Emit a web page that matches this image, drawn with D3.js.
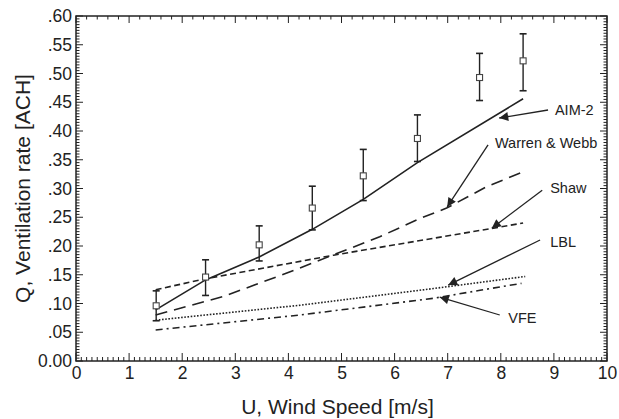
<!DOCTYPE html>
<html><head><meta charset="utf-8">
<script src="https://cdn.jsdelivr.net/npm/d3@7"></script>
<style>
html,body{margin:0;padding:0;background:#fff;}
svg{display:block;font-family:"Liberation Sans",Arial,sans-serif;}
</style></head>
<body>
<svg id="c" width="619" height="419"></svg>
<script>
// ---- data ----
const xTicks = [0,1,2,3,4,5,6,7,8,9,10];
const yTicks = [0,0.05,0.10,0.15,0.20,0.25,0.30,0.35,0.40,0.45,0.50,0.55,0.60];
const yTickLabels = ["0.00",".05",".10",".15",".20",".25",".30",".35",".40",".45",".50",".55",".60"];

const measU  = [1.51, 2.44, 3.45, 4.45, 5.41, 6.43, 7.60, 8.42];
const measQ  = [0.096, 0.146, 0.202, 0.266, 0.322, 0.387, 0.493, 0.522];
const measLo = [0.070, 0.114, 0.174, 0.228, 0.279, 0.347, 0.453, 0.470];
const measHi = [0.122, 0.176, 0.235, 0.304, 0.368, 0.428, 0.535, 0.569];

const aimU  = [1.5, 2.44, 3.45, 4.45, 5.41, 6.43, 8.42];
const aimQ  = [0.089, 0.141, 0.181, 0.229, 0.281, 0.345, 0.456];
const wwU   = [1.5, 2.77, 3.97, 5.72, 6.48, 6.98, 7.73, 8.42];
const wwQ   = [0.080, 0.112, 0.153, 0.216, 0.248, 0.266, 0.303, 0.329];
const shawU = [1.5, 2.44, 4.85, 7.86, 8.42];
const shawQ = [0.124, 0.143, 0.184, 0.231, 0.240];
const lblU  = [1.5, 4.22, 6.73, 8.46];
const lblQ  = [0.071, 0.097, 0.126, 0.147];
const vfeU  = [1.5, 4.22, 6.73, 7.61, 8.39];
const vfeQ  = [0.054, 0.080, 0.109, 0.123, 0.135];

const labelNames = ["AIM-2", "Warren & Webb", "Shaw", "LBL", "VFE"];
const labelU  = [9.02, 7.89, 8.93, 8.93, 8.14];
const labelQ  = [0.4365, 0.379, 0.301, 0.207, 0.0748];
const arrowU0 = [8.89, 7.76, 8.78, 8.74, 7.98];
const arrowQ0 = [0.4365, 0.3757, 0.297, 0.2104, 0.080];
const arrowU1 = [7.97, 6.99, 7.83, 7.01, 6.85];
const arrowQ1 = [0.4226, 0.268, 0.231, 0.132, 0.111];

// ---- chart ----
const svg = d3.select("#c");
const L = 76, R = 607, T = 16, B = 361;
const x = d3.scaleLinear().domain([0,10]).range([L,R]);
const y = d3.scaleLinear().domain([0,0.6]).range([B,T]);
const ink = "#222";

// frame
svg.append("rect").attr("x",L).attr("y",T).attr("width",R-L).attr("height",B-T)
  .attr("fill","none").attr("stroke",ink).attr("stroke-width",1.5);

// minor/major ticks
const g = svg.append("g").attr("stroke",ink).attr("stroke-width",1);
d3.range(0,10.001,0.1).forEach(v=>{
  const major = Math.abs(v-Math.round(v))<1e-6;
  g.append("line").attr("x1",x(v)).attr("x2",x(v)).attr("y1",B).attr("y2",B-(major?8:4));
});
d3.range(0,10.001,0.2).forEach(v=>{
  const major = Math.abs(v-Math.round(v))<1e-6;
  g.append("line").attr("x1",x(v)).attr("x2",x(v)).attr("y1",T).attr("y2",T+(major?7:3.5));
});
d3.range(0,0.6001,0.005).forEach(v=>{
  const major = Math.abs(v*20-Math.round(v*20))<1e-6;
  g.append("line").attr("x1",L).attr("x2",L+(major?7:3.5)).attr("y1",y(v)).attr("y2",y(v));
  g.append("line").attr("x1",R).attr("x2",R-(major?7:3.5)).attr("y1",y(v)).attr("y2",y(v));
});

// axes labels via d3 axes (no lines)
const xAxis = svg.append("g").attr("transform",`translate(0,${B})`)
  .call(d3.axisBottom(x).tickValues(xTicks).tickSize(0).tickPadding(6).tickFormat(d3.format("d")));
xAxis.select(".domain").remove();
xAxis.selectAll("text").attr("font-size",17.5).attr("fill",ink).attr("font-family","Liberation Sans, Arial, sans-serif");

const yAxis = svg.append("g").attr("transform",`translate(${L},0)`)
  .call(d3.axisLeft(y).tickValues(yTicks).tickSize(0).tickPadding(4).tickFormat((d,i)=>yTickLabels[i]));
yAxis.select(".domain").remove();
yAxis.selectAll("text").attr("font-size",17.5).attr("fill",ink).attr("font-family","Liberation Sans, Arial, sans-serif");

// axis titles
svg.append("text").attr("x",(L+R)/2 - 4).attr("y",414).attr("text-anchor","middle")
  .attr("font-size",21).attr("fill",ink).text("U, Wind Speed [m/s]");
svg.append("text").attr("transform",`translate(30,${(T+B)/2}) rotate(-90)`).attr("text-anchor","middle")
  .attr("font-size",21).attr("fill",ink).text("Q, Ventilation rate [ACH]");

// model lines
const line = d3.line().x(d=>x(d[0])).y(d=>y(d[1]));
const series = [
  [aimU, aimQ, null, 1.6],
  [wwU, wwQ, "12,7", 1.6],
  [shawU, shawQ, "6,3.5", 1.6],
  [lblU, lblQ, "1.6,1.6", 1.6],
  [vfeU, vfeQ, "7,4,2,4", 1.6]
];
series.forEach(([u,q,dash,w])=>{
  svg.append("path").datum(u.map((v,i)=>[v,q[i]])).attr("d",line)
    .attr("fill","none").attr("stroke",ink).attr("stroke-width",w)
    .attr("stroke-dasharray",dash);
});

// error bars + squares
measU.forEach((u,i)=>{
  const cx = x(u);
  svg.append("line").attr("x1",cx).attr("x2",cx).attr("y1",y(measLo[i])).attr("y2",y(measHi[i]))
    .attr("stroke",ink).attr("stroke-width",1.4);
  [measLo[i],measHi[i]].forEach(v=>{
    svg.append("line").attr("x1",cx-3.5).attr("x2",cx+3.5).attr("y1",y(v)).attr("y2",y(v))
      .attr("stroke",ink).attr("stroke-width",1.6);
  });
  svg.append("rect").attr("x",cx-3).attr("y",y(measQ[i])-3).attr("width",6).attr("height",6)
    .attr("fill","#fff").attr("stroke","#444").attr("stroke-width",1.1);
});

// annotations
svg.append("defs").append("marker").attr("id","ah").attr("viewBox","0 0 10 10")
  .attr("refX",10).attr("refY",5).attr("markerWidth",12).attr("markerHeight",9)
  .attr("markerUnits","userSpaceOnUse").attr("orient","auto")
  .append("path").attr("d","M0,0 L10,5 L0,10 Z").attr("fill",ink);
labelNames.forEach((name,i)=>{
  svg.append("line").attr("x1",x(arrowU0[i])).attr("y1",y(arrowQ0[i]))
    .attr("x2",x(arrowU1[i])).attr("y2",y(arrowQ1[i]))
    .attr("stroke",ink).attr("stroke-width",1.3).attr("marker-end","url(#ah)");
  svg.append("text").attr("x",x(labelU[i])).attr("y",y(labelQ[i])+5)
    .attr("font-size",14.5).attr("fill",ink).text(name);
});
</script>
</body></html>
